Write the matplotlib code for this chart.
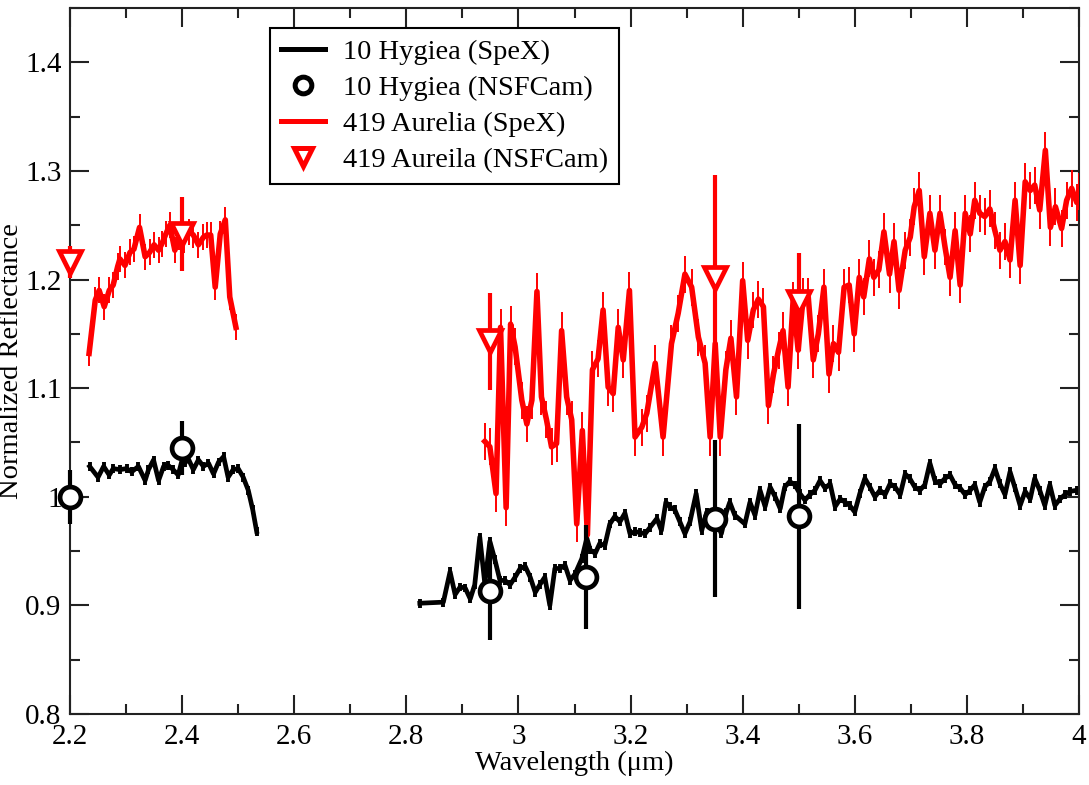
import matplotlib
matplotlib.use("Agg")
import matplotlib.pyplot as plt
from matplotlib.lines import Line2D
from matplotlib.ticker import MultipleLocator, FuncFormatter

# 10 Hygiea, SpeX spectrum (two segments, gap at 2.5-2.8 um)
hyg_x1 = [2.235, 2.250, 2.260, 2.270, 2.277, 2.289, 2.301, 2.310, 2.322, 2.334,
          2.340, 2.349, 2.358, 2.367, 2.375, 2.384, 2.393, 2.399, 2.405, 2.411,
          2.420, 2.429, 2.438, 2.447, 2.456, 2.465, 2.474, 2.482, 2.491, 2.500,
          2.509, 2.518, 2.526, 2.533]
hyg_y1 = [1.028, 1.018, 1.028, 1.020, 1.026, 1.025, 1.026, 1.023, 1.028, 1.015,
          1.025, 1.034, 1.015, 1.028, 1.029, 1.025, 1.020, 1.032, 1.031, 1.035,
          1.025, 1.034, 1.028, 1.031, 1.021, 1.032, 1.037, 1.018, 1.025, 1.026,
          1.018, 1.006, 0.988, 0.968]
hyg_x2 = [2.824, 2.866, 2.878, 2.887, 2.896, 2.905, 2.914, 2.922, 2.931, 2.940,
          2.949, 2.958, 2.967, 2.976, 2.985, 2.994, 3.003, 3.012, 3.021, 3.030,
          3.038, 3.047, 3.056, 3.065, 3.074, 3.083, 3.092, 3.101, 3.113, 3.122,
          3.128, 3.137, 3.145, 3.154, 3.163, 3.172, 3.181, 3.190, 3.199, 3.208,
          3.217, 3.226, 3.235, 3.247, 3.255, 3.263, 3.270, 3.279, 3.288, 3.297,
          3.306, 3.317, 3.327, 3.336, 3.345, 3.354, 3.362, 3.371, 3.377, 3.386,
          3.404, 3.413, 3.422, 3.431, 3.440, 3.449, 3.458, 3.467, 3.475, 3.484,
          3.493, 3.502, 3.511, 3.520, 3.529, 3.538, 3.547, 3.556, 3.565, 3.574,
          3.583, 3.591, 3.600, 3.609, 3.618, 3.627, 3.636, 3.645, 3.654, 3.663,
          3.672, 3.681, 3.690, 3.698, 3.707, 3.716, 3.725, 3.734, 3.743, 3.752,
          3.761, 3.770, 3.779, 3.788, 3.797, 3.806, 3.814, 3.823, 3.832, 3.841,
          3.850, 3.859, 3.868, 3.877, 3.886, 3.895, 3.904, 3.913, 3.921, 3.930,
          3.939, 3.948, 3.957, 3.966, 3.975, 3.984, 3.996]
hyg_y2 = [0.902, 0.903, 0.931, 0.910, 0.917, 0.916, 0.906, 0.919, 0.963, 0.920,
          0.959, 0.942, 0.923, 0.923, 0.919, 0.926, 0.934, 0.936, 0.926, 0.912,
          0.919, 0.926, 0.900, 0.934, 0.934, 0.937, 0.923, 0.929, 0.943, 0.962,
          0.951, 0.948, 0.957, 0.955, 0.975, 0.982, 0.977, 0.985, 0.966, 0.968,
          0.967, 0.966, 0.972, 0.980, 0.969, 0.995, 0.991, 0.988, 0.977, 0.966,
          0.977, 1.003, 0.969, 0.986, 0.978, 0.976, 0.966, 0.986, 0.995, 0.983,
          0.975, 0.995, 0.983, 1.006, 0.991, 1.009, 1.000, 0.989, 1.009, 1.014,
          1.011, 1.003, 0.997, 1.002, 1.006, 1.015, 1.008, 1.012, 0.991, 0.998,
          0.995, 0.992, 0.986, 1.003, 1.017, 1.009, 1.000, 1.006, 1.002, 1.012,
          1.009, 1.002, 1.021, 1.017, 1.009, 1.006, 1.011, 1.031, 1.015, 1.012,
          1.017, 1.020, 1.011, 1.008, 1.002, 1.006, 1.011, 0.995, 1.009, 1.014,
          1.026, 1.012, 1.002, 1.023, 1.008, 0.992, 1.005, 0.998, 1.017, 1.006,
          0.992, 1.011, 0.992, 0.998, 1.002, 1.005, 1.006]
hyg_err = 0.004

# 419 Aurelia, SpeX spectrum
aur_x1 = [2.234, 2.245, 2.252, 2.261, 2.270, 2.277, 2.285, 2.289, 2.298, 2.307,
          2.314, 2.324, 2.334, 2.342, 2.350, 2.358, 2.364, 2.371, 2.378, 2.387,
          2.395, 2.403, 2.413, 2.420, 2.429, 2.438, 2.444, 2.451, 2.459, 2.468,
          2.477, 2.485, 2.496]
aur_y1 = [1.132, 1.181, 1.190, 1.175, 1.190, 1.195, 1.212, 1.219, 1.213, 1.225,
          1.228, 1.248, 1.221, 1.225, 1.232, 1.227, 1.233, 1.242, 1.250, 1.227,
          1.239, 1.236, 1.244, 1.241, 1.232, 1.239, 1.241, 1.241, 1.193, 1.242,
          1.255, 1.184, 1.156]
aur_x2 = [2.940, 2.949, 2.960, 2.968, 2.978, 2.986, 2.994, 3.006, 3.015, 3.024,
          3.033, 3.041, 3.050, 3.059, 3.068, 3.077, 3.086, 3.095, 3.104, 3.114,
          3.123, 3.132, 3.142, 3.151, 3.160, 3.169, 3.178, 3.187, 3.198, 3.208,
          3.220, 3.229, 3.244, 3.258, 3.273, 3.285, 3.297, 3.309, 3.321, 3.333,
          3.342, 3.351, 3.360, 3.370, 3.379, 3.389, 3.400, 3.409, 3.419, 3.428,
          3.437, 3.446, 3.455, 3.464, 3.472, 3.481, 3.490, 3.499, 3.508, 3.517,
          3.526, 3.535, 3.545, 3.554, 3.562, 3.571, 3.581, 3.590, 3.599, 3.608,
          3.616, 3.626, 3.634, 3.643, 3.652, 3.662, 3.670, 3.679, 3.690, 3.699,
          3.706, 3.715, 3.724, 3.734, 3.743, 3.752, 3.761, 3.770, 3.779, 3.788,
          3.797, 3.806, 3.814, 3.823, 3.832, 3.841, 3.850, 3.859, 3.868, 3.877,
          3.886, 3.895, 3.904, 3.913, 3.921, 3.930, 3.940, 3.949, 3.958, 3.969,
          3.978, 3.987, 3.996, 4.000]
aur_y2 = [1.051, 1.046, 1.003, 1.156, 0.990, 1.159, 1.138, 1.089, 1.067, 1.089,
          1.189, 1.092, 1.071, 1.046, 1.049, 1.153, 1.092, 1.071, 0.975, 1.061,
          0.965, 1.117, 1.127, 1.172, 1.101, 1.095, 1.156, 1.126, 1.190, 1.055,
          1.064, 1.077, 1.123, 1.055, 1.141, 1.169, 1.205, 1.193, 1.147, 1.123,
          1.055, 1.141, 1.055, 1.117, 1.146, 1.092, 1.199, 1.144, 1.172, 1.182,
          1.175, 1.084, 1.113, 1.135, 1.153, 1.101, 1.181, 1.135, 1.184, 1.184,
          1.126, 1.150, 1.193, 1.113, 1.141, 1.133, 1.193, 1.195, 1.150, 1.202,
          1.184, 1.219, 1.202, 1.209, 1.244, 1.205, 1.235, 1.190, 1.227, 1.239,
          1.267, 1.282, 1.221, 1.261, 1.227, 1.261, 1.230, 1.202, 1.245, 1.195,
          1.261, 1.242, 1.273, 1.261, 1.258, 1.265, 1.245, 1.227, 1.235, 1.218,
          1.273, 1.213, 1.290, 1.282, 1.287, 1.264, 1.319, 1.248, 1.267, 1.247,
          1.273, 1.284, 1.271, 1.281]
aur_err1 = 0.012
aur_err2 = 0.017

# NSFCam photometry
hyg_nsf_x = [2.20, 2.40, 2.95, 3.12, 3.35, 3.50]
hyg_nsf_y = [1.000, 1.045, 0.913, 0.926, 0.980, 0.982]
hyg_nsf_e = [0.025, 0.025, 0.045, 0.048, 0.072, 0.085]
aur_nsf_x = [2.20, 2.40, 2.95, 3.35, 3.50]
aur_nsf_y = [1.216, 1.242, 1.143, 1.201, 1.179]
aur_nsf_e = [0.015, 0.034, 0.045, 0.095, 0.045]

labels = ["10 Hygiea (SpeX)", "10 Hygiea (NSFCam)",
          "419 Aurelia (SpeX)", "419 Aureila (NSFCam)"]

plt.rcParams.update({
    "font.family": "Liberation Serif",
    "font.size": 20.5,
})

fig = plt.figure(figsize=(10.89, 7.85), dpi=100)
ax = fig.add_axes([0.0643, 0.0904, 0.9265, 0.8994])

red = "#ff0000"

# SpeX spectra
for x, y in [(hyg_x1, hyg_y1), (hyg_x2, hyg_y2)]:
    ax.errorbar(x, y, yerr=hyg_err, color="black", lw=3.4, elinewidth=2.8,
                capsize=0, zorder=2)
for x, y, e in [(aur_x1, aur_y1, aur_err1), (aur_x2, aur_y2, aur_err2)]:
    ax.errorbar(x, y, yerr=e, color=red, lw=4.0, elinewidth=1.4,
                capsize=0, zorder=3)

# NSFCam points
ax.errorbar(hyg_nsf_x, hyg_nsf_y, yerr=hyg_nsf_e, fmt="o", color="black",
            mfc="white", mec="black", ms=15, mew=3.4, elinewidth=3,
            capsize=0, zorder=4, clip_on=False)
ax.errorbar(aur_nsf_x, aur_nsf_y, yerr=aur_nsf_e, fmt="v", color=red,
            mfc="white", mec=red, ms=16, mew=3.4, elinewidth=3,
            capsize=0, zorder=5, clip_on=False)

ax.set_xlim(2.2, 4.0)
ax.set_ylim(0.8, 1.45)
ax.xaxis.set_major_locator(MultipleLocator(0.2))
ax.xaxis.set_minor_locator(MultipleLocator(0.1))
ax.yaxis.set_major_locator(MultipleLocator(0.1))
ax.yaxis.set_minor_locator(MultipleLocator(0.05))
fmt = FuncFormatter(lambda v, p: f"{v:g}")
ax.xaxis.set_major_formatter(fmt)
ax.yaxis.set_major_formatter(fmt)

ax.tick_params(which="both", direction="in", top=True, right=True,
               width=1.5, color="#222222")
ax.tick_params(which="major", length=14, labelsize=21)
ax.tick_params(axis="x", which="major", pad=7)
ax.tick_params(axis="y", which="major", pad=6)
ax.tick_params(which="minor", length=7)
for sp in ax.spines.values():
    sp.set_linewidth(1.5)
    sp.set_color("#222222")

ax.set_xlabel("Wavelength (μm)", fontsize=20.5)
ax.xaxis.set_label_coords(0.5, -0.052)
ax.set_ylabel("Normalized Reflectance", fontsize=20.5)
ax.yaxis.set_label_coords(-0.046, 0.5)

handles = [
    Line2D([0], [0], color="black", lw=3.6),
    Line2D([0], [0], ls="none", marker="o", ms=12, mfc="white",
           mec="black", mew=3.6),
    Line2D([0], [0], color=red, lw=3.6),
    Line2D([0], [0], ls="none", marker="v", ms=13, mfc="white",
           mec=red, mew=3.6),
]
leg = ax.legend(handles, labels, loc="upper left",
                bbox_to_anchor=(0.198, 0.972), fontsize=20.5,
                frameon=True, fancybox=False, framealpha=1,
                edgecolor="black", handlelength=1.55, handletextpad=0.65,
                borderpad=0.38, labelspacing=0.36, borderaxespad=0)
leg.get_frame().set_linewidth(1.5)

fig.savefig("out.png", dpi=100)
